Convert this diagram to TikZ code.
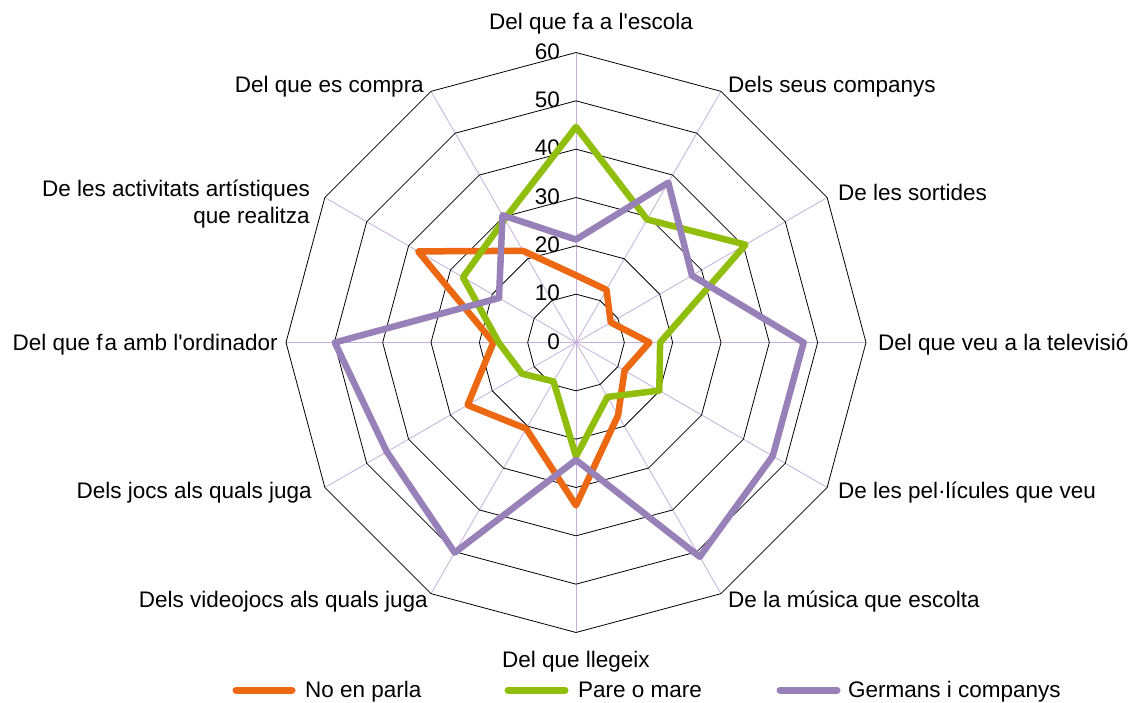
\documentclass[tikz,border=0pt]{standalone}
\usepackage{fontspec}
\setmainfont{Liberation Sans}
\definecolor{sorange}{RGB}{236,104,18}
\definecolor{sgreen}{RGB}{145,190,12}
\definecolor{spurple}{RGB}{152,128,184}
\definecolor{spoke}{RGB}{196,176,218}
\newcommand{\apo}{\textquotesingle}
\begin{document}
\begin{tikzpicture}[x=1pt,y=1pt,
  ring/.style={draw=black,line width=0.8pt},
  spokeline/.style={draw=spoke,line width=0.8pt},
  series/.style={line width=6.5pt,line join=round,line cap=round},
  legline/.style={line width=7pt,line cap=round},
  lbl/.style={font=\fontsize{22.5}{27}\selectfont,inner sep=0pt},
  tick/.style={font=\fontsize{22.5}{27}\selectfont,inner sep=0pt,anchor=mid east}]
\useasboundingbox (0,0) rectangle (1132,702);
\coordinate (o) at (576,359.5);
\begin{scope}[shift={(576,359.5)}]
  % spokes
  \foreach \i in {0,...,11} {
    \coordinate (s\i) at ({90-30*\i}:290);
    \draw[spokeline] (0,0) -- (s\i);
  }
  % rings
  \foreach \k in {1,...,6} {
    \draw[ring] ({90}:{48.333*\k})
      \foreach \i in {1,...,11} { -- ({90-30*\i}:{48.333*\k}) } -- cycle;
  }
  % tick labels
  \foreach \k in {0,...,6} {
    \node[tick] (t\k) at (-16,{48.333*\k-4}) {\the\numexpr\k*10\relax};
  }
  % series data
  \def\sc{4.8333}
  \foreach \v [count=\i from 0] in {13.9,12.6,8.3,15.2,11.6,17.4,33.7,20.6,25.9,17.1,37.7,21.9}
    \coordinate (a\i) at ({90-30*\i}:{\v*\sc});
  \foreach \v [count=\i from 0] in {44.6,29.4,40.5,17.4,19.9,13.0,23.6,9.3,12.9,16.0,27.0,29.5}
    \coordinate (b\i) at ({90-30*\i}:{\v*\sc});
  \foreach \v [count=\i from 0] in {21.3,38.2,27.7,47.1,47.0,51.2,24.3,50.2,45.2,49.9,18.4,30.4}
    \coordinate (c\i) at ({90-30*\i}:{\v*\sc});
\end{scope}
\draw[series,sorange] (a0) -- (a1) -- (a2) -- (a3) -- (a4) -- (a5) -- (a6) -- (a7) -- (a8) -- (a9) -- (a10) -- (a11) -- cycle;
\draw[series,sgreen] (b0) -- (b1) -- (b2) -- (b3) -- (b4) -- (b5) -- (b6) -- (b7) -- (b8) -- (b9) -- (b10) -- (b11) -- cycle;
\draw[series,spurple] (c0) -- (c1) -- (c2) -- (c3) -- (c4) -- (c5) -- (c6) -- (c7) -- (c8) -- (c9) -- (c10) -- (c11) -- cycle;
% category labels
\node[lbl,anchor=mid] (l0) at (591,675) {Del que f\kern2pt a a l\apo escola};
\node[lbl,anchor=mid west] (l1) at (728,612) {Dels seus companys};
\node[lbl,anchor=mid west] (l2) at (838,504) {De les sortides};
\node[lbl,anchor=mid west] (l3) at (878,354) {Del que veu a la televisió};
\node[lbl,anchor=mid west] (l4) at (838,206) {De les pel·lícules que veu};
\node[lbl,anchor=mid west] (l5) at (728,97) {De la música que escolta};
\node[lbl,anchor=mid] (l6) at (576,37) {Del que llegeix};
\node[lbl,anchor=mid east] (l7) at (428,97) {Dels videojocs als quals juga};
\node[lbl,anchor=mid east] (l8) at (312,206) {Dels jocs als quals juga};
\node[lbl,anchor=mid east] (l9) at (278,354) {Del que f\kern2pt a amb l\apo ordinador};
\node[lbl,anchor=east,align=right] (l10) at (310,498) {De les activitats artístiques\\que realitza};
\node[lbl,anchor=mid east] (l11) at (424,612) {Del que es compra};
% legend
\coordinate (la1) at (236,12); \coordinate (la2) at (292,12);
\coordinate (lb1) at (508,12); \coordinate (lb2) at (565,12);
\coordinate (lc1) at (780,12); \coordinate (lc2) at (837,12);
\draw[legline,sorange] (la1) -- (la2);
\draw[legline,sgreen] (lb1) -- (lb2);
\draw[legline,spurple] (lc1) -- (lc2);
\node[lbl,anchor=mid west] (ta) at (305,7) {No en parla};
\node[lbl,anchor=mid west] (tb) at (578,7) {Pare o mare};
\node[lbl,anchor=mid west] (tc) at (848,7) {Germans i companys};
\end{tikzpicture}
\end{document}
